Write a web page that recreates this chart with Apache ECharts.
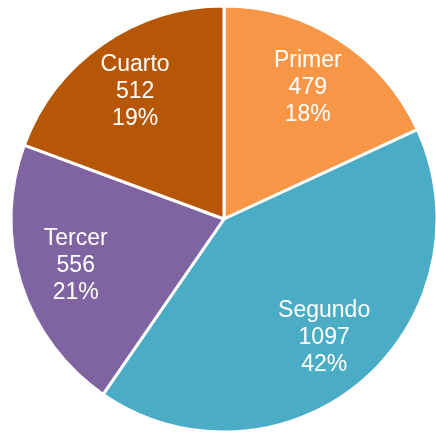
<!DOCTYPE html>
<html><head><meta charset="utf-8">
<script src="https://cdn.jsdelivr.net/npm/echarts@6/dist/echarts.min.js"></script>
<style>html,body{margin:0;padding:0;background:#fff}#c{width:436px;height:434px}</style>
</head><body><div id="c"></div>
<script>
const categories = ['Primer', 'Segundo', 'Tercer', 'Cuarto'];
const values = [479, 1097, 556, 512];
const colors = ['#F79646', '#4BACC6', '#8064A2', '#B65708'];

// whole-number percentages by largest remainder (so they sum to 100)
const total = values.reduce((a, b) => a + b, 0);
const raw = values.map(v => v / total * 100);
const pct = raw.map(Math.floor);
let rest = 100 - pct.reduce((a, b) => a + b, 0);
raw.map((r, i) => [r - Math.floor(r), i]).sort((a, b) => b[0] - a[0]).slice(0, rest).forEach(([, i]) => pct[i]++);

const data = categories.map((c, i) => ({ name: c, value: values[i], itemStyle: { color: colors[i] } }));
const center = [224, 219];
const chart = echarts.init(document.getElementById('c'));
chart.setOption({
  animation: false,
  series: [
    {
      type: 'pie', center: center, radius: [0, 213], startAngle: 90, clockwise: true,
      silent: true,
      data: data,
      itemStyle: { borderColor: '#fff', borderWidth: 3 },
      label: { show: false }, labelLine: { show: false }
    },
    {
      type: 'pie', center: center, radius: [92, 213], startAngle: 90, clockwise: true,
      silent: true,
      data: data.map(d => ({ name: d.name, value: d.value })),
      itemStyle: { color: 'rgba(0,0,0,0)' },
      label: {
        show: true, position: 'inside', color: '#fff',
        fontFamily: 'Liberation Sans, Arial, sans-serif', fontSize: 23, lineHeight: 27,
        formatter: p => p.name + '\n' + p.value + '\n' + pct[p.dataIndex] + '%'
      },
      labelLine: { show: false }
    }
  ]
});
</script></body></html>
